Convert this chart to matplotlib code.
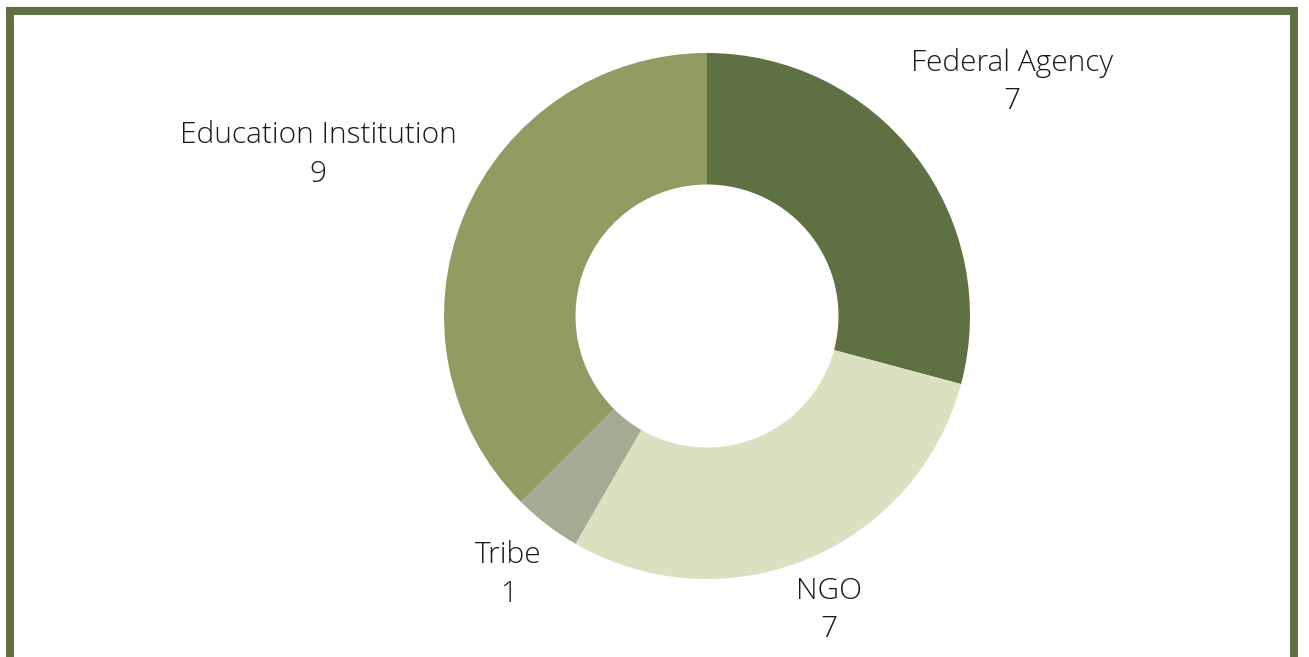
import matplotlib
matplotlib.use("Agg")
import matplotlib.pyplot as plt
import numpy as np
from matplotlib.patches import Rectangle

plt.rcParams['font.family'] = ['Open Sans', 'DejaVu Sans']

# Data
categories = ["Federal Agency", "NGO", "Tribe", "Education Institution"]
counts = [7, 7, 1, 9]
colors = ["#5F7043", "#DBE0C1", "#A3AB93", "#919B62"]
label_dist = [1.46, 1.21, 1.24, 1.60]

W, H = 1309, 657
fig = plt.figure(figsize=(W / 100, H / 100), dpi=100)

# green frame (bottom edge runs off the image)
fig.patches.append(Rectangle((10 / W, -0.1), 1284 / W, 1.1 - 11 / H,
                             transform=fig.transFigure, fill=False,
                             edgecolor="#607042", linewidth=5.8))

# donut axes: centre (707, 316), radius 263 px
cx, cy, r = 707, 316, 263
ax = fig.add_axes([(cx - r) / W, (H - cy - r) / H, 2 * r / W, 2 * r / H])
wedges, _ = ax.pie(counts, colors=colors, startangle=90, counterclock=False,
                   radius=1, wedgeprops=dict(width=0.5, linewidth=0))
ax.set_xlim(-1, 1)
ax.set_ylim(-1, 1)
ax.set_aspect("equal")
ax.axis("off")

for w, name, n, d in zip(wedges, categories, counts, label_dist):
    ang = np.deg2rad((w.theta1 + w.theta2) / 2)
    ax.text(d * np.cos(ang), d * np.sin(ang), f"{name}\n{n}", ha="center",
            va="center", fontsize=21.5, color="#1a1a1a", linespacing=1.4,
            fontweight="light")

fig.savefig("out.png", dpi=100)
